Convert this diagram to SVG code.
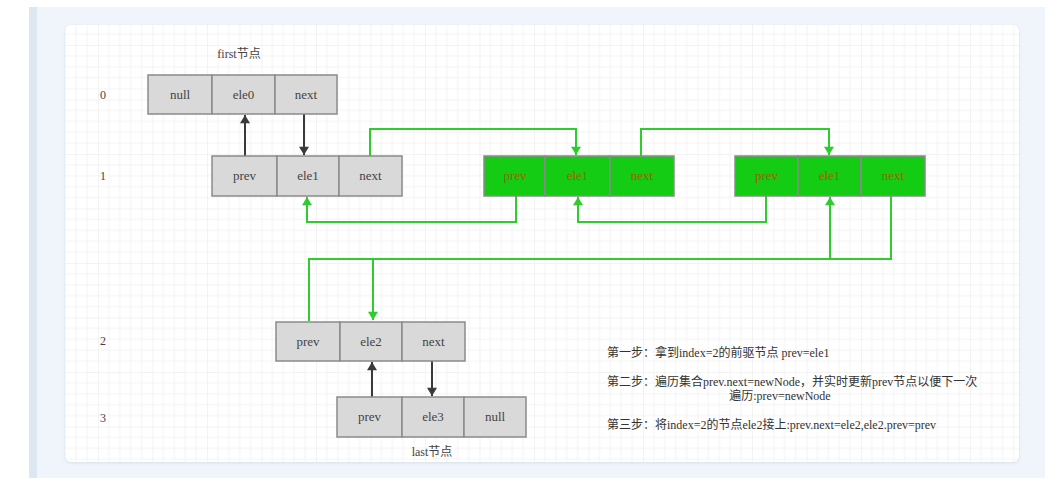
<svg xmlns="http://www.w3.org/2000/svg" width="1064" height="485" viewBox="0 0 1064 485">
  <defs>
    <pattern id="grid" x="43.5" y="45" width="54.5" height="54.5" patternUnits="userSpaceOnUse">
      <path d="M10.9 0V54.5M21.8 0V54.5M32.7 0V54.5M43.6 0V54.5M0 10.9H54.5M0 21.8H54.5M0 32.7H54.5M0 43.6H54.5" stroke="#f4f4f4" stroke-width="1" fill="none"/>
      <path d="M0 0V54.5M0 0H54.5" stroke="#e8e8e8" stroke-width="1" fill="none"/>
    </pattern>
    <marker id="ad" viewBox="0 0 10 12" refX="10" refY="6" markerWidth="6" markerHeight="5" orient="auto" markerUnits="strokeWidth">
      <path d="M0 0L10 6L0 12Z" fill="#3a3a3a"/>
    </marker>
    <marker id="ag" viewBox="0 0 10 12" refX="10" refY="6" markerWidth="6" markerHeight="5" orient="auto" markerUnits="strokeWidth">
      <path d="M0 0L10 6L0 12Z" fill="#2ecc2e"/>
    </marker>
    <filter id="sh" x="-5%" y="-5%" width="110%" height="110%">
      <feDropShadow dx="0" dy="1" stdDeviation="1.5" flood-color="#b8c4d2" flood-opacity="0.5"/>
    </filter>
  </defs>
  <style>
    .cell{fill:#d9d9d9;stroke:#8a8a8a;stroke-width:1.5}
    .gcell{fill:#14cc14;stroke:#8a8a8a;stroke-width:1.5}
    .t{font-family:"Liberation Serif","Noto Sans CJK SC",serif;font-size:13px;fill:#444;text-anchor:middle}
    .gt{font-family:"Liberation Serif","Noto Sans CJK SC",serif;font-size:13px;fill:#9a6400;text-anchor:middle}
    .lbl{font-family:"Liberation Serif","Noto Sans CJK SC",serif;font-size:12px;fill:#444}
    .step{font-family:"Liberation Serif","Noto Sans CJK SC",serif;font-size:12px;fill:#333}
    .dk{stroke:#3a3a3a;stroke-width:2;fill:none;marker-end:url(#ad)}
    .gr{stroke:#2ecc2e;stroke-width:2;fill:none;marker-end:url(#ag)}
  </style>

  <!-- page background -->
  <rect x="0" y="0" width="1064" height="485" fill="#ffffff"/>
  <rect x="29" y="7" width="1016" height="471" fill="#f0f5fb"/>
  <rect x="29" y="7" width="8" height="471" fill="#dde7f2"/>
  <rect x="65" y="25" width="954" height="437" rx="6" fill="#ffffff" filter="url(#sh)"/>
  <rect x="65" y="25" width="954" height="437" rx="6" fill="url(#grid)"/>

  <!-- labels -->
  <g id="labels">
    <text class="lbl" x="100" y="99">0</text>
    <text class="lbl" x="100" y="180">1</text>
    <text class="lbl" x="100" y="345">2</text>
    <text class="lbl" x="100" y="422">3</text>
    <text class="lbl" x="239" y="58" text-anchor="middle">first节点</text>
    <text class="lbl" x="432" y="456" text-anchor="middle">last节点</text>
  </g>

  <!-- connectors -->
  <g id="connectors">
    <path class="dk" d="M245 156V115"/>
    <path class="dk" d="M304 114V155"/>
    <path class="dk" d="M372 397V362"/>
    <path class="dk" d="M432 361V396"/>
    <path class="gr" d="M370 156V129H576V155"/>
    <path class="gr" d="M641 156V129H829V155"/>
    <path class="gr" d="M516 196V222H307V197"/>
    <path class="gr" d="M766 196V222H578V197"/>
    <path class="gr" d="M891 196V259H373V320"/>
    <path class="gr" d="M309 321V259H830V197"/>
  </g>

  <!-- node 0 -->
  <g id="node0">
    <rect class="cell" x="148" y="75" width="64" height="39"/>
    <rect class="cell" x="212" y="75" width="63" height="39"/>
    <rect class="cell" x="275" y="75" width="62" height="39"/>
    <text class="t" x="180" y="99">null</text>
    <text class="t" x="243.5" y="99">ele0</text>
    <text class="t" x="306" y="99">next</text>
  </g>

  <!-- node 1 -->
  <g id="node1">
    <rect class="cell" x="212" y="156" width="65" height="40"/>
    <rect class="cell" x="277" y="156" width="62" height="40"/>
    <rect class="cell" x="339" y="156" width="63" height="40"/>
    <text class="t" x="244.5" y="180">prev</text>
    <text class="t" x="308" y="180">ele1</text>
    <text class="t" x="370.5" y="180">next</text>
  </g>

  <!-- green node A -->
  <g id="greenA">
    <rect class="gcell" x="484" y="156" width="61" height="40"/>
    <rect class="gcell" x="545" y="156" width="65" height="40"/>
    <rect class="gcell" x="610" y="156" width="64" height="40"/>
    <text class="gt" x="515" y="180">prev</text>
    <text class="gt" x="577.5" y="180">ele1</text>
    <text class="gt" x="642" y="180">next</text>
  </g>

  <!-- green node B -->
  <g id="greenB">
    <rect class="gcell" x="735" y="156" width="63" height="40"/>
    <rect class="gcell" x="798" y="156" width="63" height="40"/>
    <rect class="gcell" x="861" y="156" width="64" height="40"/>
    <text class="gt" x="766.5" y="180">prev</text>
    <text class="gt" x="829.5" y="180">ele1</text>
    <text class="gt" x="893" y="180">next</text>
  </g>

  <!-- node 2 -->
  <g id="node2">
    <rect class="cell" x="276" y="322" width="64" height="39"/>
    <rect class="cell" x="340" y="322" width="62" height="39"/>
    <rect class="cell" x="402" y="322" width="63" height="39"/>
    <text class="t" x="308" y="346">prev</text>
    <text class="t" x="371" y="346">ele2</text>
    <text class="t" x="433.5" y="346">next</text>
  </g>

  <!-- node 3 -->
  <g id="node3">
    <rect class="cell" x="337" y="397" width="65" height="40"/>
    <rect class="cell" x="402" y="397" width="62" height="40"/>
    <rect class="cell" x="464" y="397" width="62" height="40"/>
    <text class="t" x="369.5" y="421">prev</text>
    <text class="t" x="433" y="421">ele3</text>
    <text class="t" x="495" y="421">null</text>
  </g>

  <!-- steps -->
  <g id="steps">
    <text class="step" x="607" y="357">第一步：拿到index=2的前驱节点 prev=ele1</text>
    <text class="step" x="607" y="386">第二步：遍历集合prev.next=newNode，并实时更新prev节点以便下一次</text>
    <text class="step" x="780" y="400" text-anchor="middle">遍历:prev=newNode</text>
    <text class="step" x="607" y="429">第三步：将index=2的节点ele2接上:prev.next=ele2,ele2.prev=prev</text>
  </g>
</svg>
